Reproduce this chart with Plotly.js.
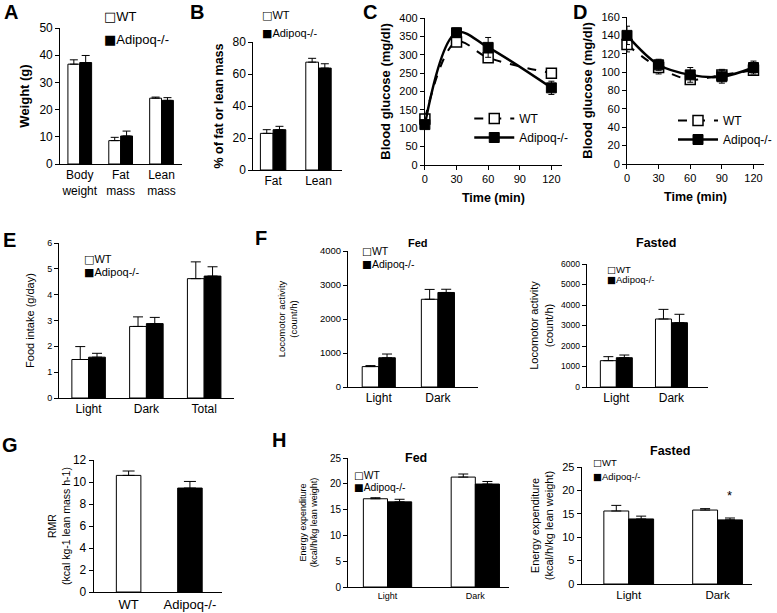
<!DOCTYPE html>
<html><head><meta charset="utf-8">
<script src="https://cdn.plot.ly/plotly-3.0.1.min.js"></script>
<style>html,body{margin:0;padding:0;background:#fff}#chart{width:777px;height:613px}</style>
</head><body><div id="chart"></div>
<script>
// ---------------- Data ----------------
const groupNames = ['WT', 'Adipoq-/-'];

const bodyCats = ['Body<br>weight', 'Fat<br>mass', 'Lean<br>mass'];
const bodyWT = [36.7, 8.6, 24.2];
const bodyWTErr = [1.6, 1.2, 0.4];
const bodyKO = [37.3, 10.3, 23.4];
const bodyKOErr = [2.6, 1.8, 1.0];

const pctCats = ['Fat', 'Lean'];
const pctWT = [22.9, 67.4];
const pctWTErr = [2.3, 2.4];
const pctKO = [25.2, 63.7];
const pctKOErr = [2.1, 2.7];

const gttTime = [0, 30, 60, 120];
const gttWT = [125, 335, 292, 250];
const gttWTErr = [8, 10, 10, 8];
const gttKO = [110, 360, 320, 210];
const gttKOErr = [8, 12, 27, 18];

const ittTime = [0, 30, 60, 90, 120];
const ittWT = [130, 105, 92, 97, 102];
const ittWTErr = [8, 7, 5, 6, 5];
const ittKO = [140, 108, 97, 95, 105];
const ittKOErr = [10, 6, 8, 7, 7];

const foodCats = ['Light', 'Dark', 'Total'];
const foodWT = [1.49, 2.77, 4.62];
const foodWTErr = [0.5, 0.37, 0.65];
const foodKO = [1.58, 2.88, 4.72];
const foodKOErr = [0.15, 0.24, 0.36];

const cycleCats = ['Light', 'Dark'];
const locoFedWT = [600, 2580];
const locoFedWTErr = [30, 290];
const locoFedKO = [860, 2780];
const locoFedKOErr = [110, 95];
const locoFastWT = [1285, 3317];
const locoFastWTErr = [195, 470];
const locoFastKO = [1430, 3137];
const locoFastKOErr = [130, 410];

const rmrCats = ['WT', 'Adipoq-/-'];
const rmrVals = [10.6, 9.45];
const rmrErr = [0.4, 0.6];

const eeFedWT = [17.1, 21.3];
const eeFedWTErr = [0.2, 0.6];
const eeFedKO = [16.5, 19.95];
const eeFedKOErr = [0.5, 0.5];
const eeFastWT = [15.6, 15.8];
const eeFastWTErr = [1.2, 0.3];
const eeFastKO = [13.9, 13.7];
const eeFastKOErr = [0.6, 0.4];

// ---------------- Helpers ----------------
const W = 777, H = 613;
const FONT = 'Liberation Sans, Arial, Helvetica, sans-serif';
const xd = (l, r) => [l / W, r / W];
const yd = (t, b) => [1 - b / H, 1 - t / H];
const px = v => v / W;
const py = v => 1 - v / H;

function catAxis(l, r, rng, fs, anchor) {
  return {domain: xd(l, r), range: rng, type: 'category', anchor: anchor,
    showline: true, linecolor: '#000', linewidth: 1, ticks: '', showgrid: false,
    zeroline: false, tickfont: {family: FONT, size: fs, color: '#000'}, fixedrange: true};
}
function numXAxis(l, r, rng, dtick, fs, anchor, title) {
  return {domain: xd(l, r), range: rng, anchor: anchor, tick0: 0, dtick: dtick,
    showline: true, linecolor: '#000', linewidth: 1, ticks: 'outside', ticklen: 4,
    tickcolor: '#000', showgrid: false, zeroline: false,
    tickfont: {family: FONT, size: fs, color: '#000'},
    title: {text: title, font: {family: FONT, size: 12.5, color: '#000', weight: 'bold'}, standoff: 9}};
}
function valAxis(t, b, rng, dtick, fs, anchor, title, tfs, bold, standoff) {
  return {domain: yd(t, b), range: rng, anchor: anchor, tick0: 0, dtick: dtick,
    showline: true, linecolor: '#000', linewidth: 1, ticks: 'outside', ticklen: 4,
    tickcolor: '#000', showgrid: false, zeroline: false,
    tickfont: {family: FONT, size: fs, color: '#000'},
    title: {text: title, standoff: standoff,
      font: {family: FONT, size: tfs, color: '#000', weight: bold ? 'bold' : 'normal'}}};
}
function errUp(arr, w) {
  return {type: 'data', symmetric: false, array: arr, arrayminus: arr.map(() => 0),
    color: '#000', thickness: 1, width: w};
}
function barPair(n, cats, wt, wtErr, ko, koErr, width, capw) {
  const xa = 'x' + (n === 1 ? '' : n), ya = 'y' + (n === 1 ? '' : n);
  return [
    {type: 'bar', x: cats, y: wt, name: groupNames[0], xaxis: xa, yaxis: ya,
     width: width, offset: -width, showlegend: false,
     marker: {color: '#fff', line: {color: '#000', width: 1}}, error_y: errUp(wtErr, capw)},
    {type: 'bar', x: cats, y: ko, name: groupNames[1], xaxis: xa, yaxis: ya,
     width: width, offset: 0, showlegend: false,
     marker: {color: '#000', line: {color: '#000', width: 1}}, error_y: errUp(koErr, capw)}
  ];
}
function lineTraces(n, t, wt, wtErr, ko, koErr, legend) {
  const xa = 'x' + n, ya = 'y' + n;
  return [
    {type: 'scatter', mode: 'lines+markers', x: t, y: wt, name: groupNames[0], xaxis: xa, yaxis: ya,
     legend: legend, cliponaxis: false,
     line: {color: '#000', width: 2, dash: 'dash', shape: 'spline'},
     marker: {symbol: 'square', size: 10, color: '#fff', line: {color: '#000', width: 1.5}},
     error_y: {type: 'data', array: wtErr, color: '#000', thickness: 1, width: 3}},
    {type: 'scatter', mode: 'lines+markers', x: t, y: ko, name: groupNames[1], xaxis: xa, yaxis: ya,
     legend: legend, cliponaxis: false,
     line: {color: '#000', width: 2.5, shape: 'spline'},
     marker: {symbol: 'square', size: 10, color: '#000', line: {color: '#000', width: 1}},
     error_y: {type: 'data', array: koErr, color: '#000', thickness: 1, width: 3}}
  ];
}

// ---------------- Traces ----------------
const data = [].concat(
  barPair(1, bodyCats, bodyWT, bodyWTErr, bodyKO, bodyKOErr, 0.29, 4),
  barPair(2, pctCats, pctWT, pctWTErr, pctKO, pctKOErr, 0.28, 4),
  lineTraces(3, gttTime, gttWT, gttWTErr, gttKO, gttKOErr, 'legend'),
  lineTraces(4, ittTime, ittWT, ittWTErr, ittKO, ittKOErr, 'legend2'),
  barPair(5, foodCats, foodWT, foodWTErr, foodKO, foodKOErr, 0.29, 5),
  barPair(6, cycleCats, locoFedWT, locoFedWTErr, locoFedKO, locoFedKOErr, 0.28, 5),
  barPair(7, cycleCats, locoFastWT, locoFastWTErr, locoFastKO, locoFastKOErr, 0.29, 5),
  [{type: 'bar', x: rmrCats, y: rmrVals, name: 'RMR', xaxis: 'x8', yaxis: 'y8', width: 0.4,
    showlegend: false, marker: {color: ['#fff', '#000'], line: {color: '#000', width: 1}},
    error_y: errUp(rmrErr, 6)}],
  barPair(9, cycleCats, eeFedWT, eeFedWTErr, eeFedKO, eeFedKOErr, 0.275, 5),
  barPair(10, cycleCats, eeFastWT, eeFastWTErr, eeFastKO, eeFastKOErr, 0.28, 5)
);

// ---------------- Layout ----------------
const layout = {
  width: W, height: H, margin: {l: 0, r: 0, t: 0, b: 0},
  paper_bgcolor: '#fff', plot_bgcolor: 'rgba(0,0,0,0)',
  font: {family: FONT, color: '#000'},
  barmode: 'overlay', showlegend: true,
  // A
  xaxis: catAxis(61, 185, [-0.48, 2.51], 12, 'y'),
  yaxis: valAxis(28, 164, [0, 50], 10, 12, 'x', 'Weight (g)', 13, true, 6),
  // B
  xaxis2: catAxis(257, 347, [-0.435, 1.52], 12, 'y2'),
  yaxis2: valAxis(42, 170, [0, 80], 20, 12, 'x2', '% of fat or lean mass', 12.5, true, 6),
  // C
  xaxis3: numXAxis(431, 570, [0, 130], 30, 11, 'y3', 'Time (min)'),
  yaxis3: valAxis(18, 165, [0, 400], 50, 11, 'x3', 'Blood glucose (mg/dl)', 13, true, 5),
  // D
  xaxis4: numXAxis(636, 775, [0, 130], 30, 11, 'y4', 'Time (min)'),
  yaxis4: valAxis(17, 164, [0, 160], 20, 11, 'x4', 'Blood glucose (mg/dl)', 13, true, 5),
  // E
  xaxis5: catAxis(60, 237, [-0.51, 2.51], 12, 'y5'),
  yaxis5: valAxis(243, 398, [0, 6], 1, 9, 'x5', 'Food intake (g/day)', 11, false, 10),
  // F fed
  xaxis6: catAxis(353, 485, [-0.52, 1.68], 12, 'y6'),
  yaxis6: valAxis(251, 387, [0, 4000], 1000, 9.5, 'x6', 'Locomotor activity<br>(count/h)', 9.5, false, 20),
  // F fasted
  xaxis7: catAxis(595, 718, [-0.54, 1.66], 12, 'y7'),
  yaxis7: valAxis(264, 387, [0, 6000], 1000, 8.5, 'x7', 'Locomotor activity<br>(count/h)', 11, false, 5),
  // G
  xaxis8: catAxis(95, 225, [-0.57, 1.52], 13, 'y8'),
  yaxis8: valAxis(460, 592, [0, 12], 2, 12, 'x8', 'RMR<br>(kcal kg-1 lean mass h-1)', 10.5, false, 0),
  // H fed
  xaxis9: catAxis(353, 516, [-0.45, 1.38], 9, 'y9'),
  yaxis9: valAxis(458, 587, [0, 25], 5, 10, 'x9', 'Energy expenditure<br>(kcal/h/kg lean weight)', 9, false, 10),
  // H fasted
  xaxis10: catAxis(590, 763, [-0.53, 1.39], 11.5, 'y10'),
  yaxis10: valAxis(467, 584, [0, 25], 5, 11, 'x10', 'Energy expenditure<br>(kcal/h/kg lean weight)', 11, false, 6),
  legend: {x: px(476), y: py(104), xanchor: 'left', yanchor: 'top', bgcolor: 'rgba(0,0,0,0)',
    font: {family: FONT, size: 12, color: '#000'}, itemwidth: 40, tracegroupgap: 0},
  legend2: {x: px(683), y: py(106), xanchor: 'left', yanchor: 'top', bgcolor: 'rgba(0,0,0,0)',
    font: {family: FONT, size: 12, color: '#000'}, itemwidth: 40, tracegroupgap: 0},
  annotations: []
};

const ann = layout.annotations;
function letter(t, x, y) {
  ann.push({text: t, x: px(x), y: py(y), xref: 'paper', yref: 'paper', showarrow: false,
    xanchor: 'center', yanchor: 'middle', font: {family: FONT, size: 20, color: '#000', weight: 'bold'}});
}
function txt(t, x, y, size, bold, anchor) {
  ann.push({text: t, x: px(x), y: py(y), xref: 'paper', yref: 'paper', showarrow: false,
    xanchor: anchor || 'left', yanchor: 'middle',
    font: {family: FONT, size: size, color: '#000', weight: bold ? 'bold' : 'normal'}});
}
function barLegend(x, y1, y2, size) {
  const sq = c => '<span style="font-family:DejaVu Sans">' + c + '</span>';
  txt(sq('\u25A1') + groupNames[0], x, y1, size, false);
  txt(sq('\u25A0') + groupNames[1], x, y2, size, false);
}
letter('A', 11, 12); letter('B', 200, 12); letter('C', 375, 12); letter('D', 588, 12);
letter('E', 10, 240); letter('F', 265, 238); letter('G', 10, 445); letter('H', 283, 440);

barLegend(103, 17, 39, 13);
barLegend(264, 15, 33, 11);
barLegend(83, 259, 272, 11);
barLegend(365, 251, 264, 10.5);
barLegend(614, 269, 280, 9.5);
barLegend(357, 475, 487, 10.3);
barLegend(599, 462, 476, 9.5);

txt('Fed', 424, 243, 11, true, 'center');
txt('Fasted', 665, 243, 12.5, true, 'center');
txt('Fed', 422, 458, 12.5, true, 'center');
txt('Fasted', 680, 451, 12.5, true, 'center');

ann.push({text: '*', x: 1.14, y: 19, xref: 'x10', yref: 'y10', showarrow: false,
  xanchor: 'center', yanchor: 'middle', font: {family: FONT, size: 13, color: '#000'}});

Plotly.newPlot('chart', data, layout, {staticPlot: true, displayModeBar: false});
</script>
</body></html>
